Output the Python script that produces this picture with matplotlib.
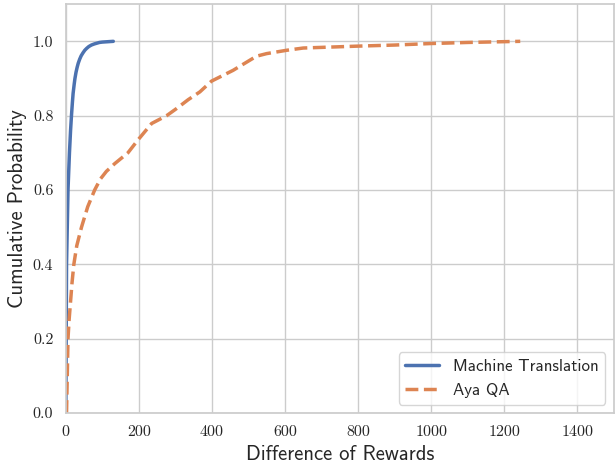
import matplotlib
matplotlib.use("Agg")
import matplotlib.pyplot as plt
import seaborn as sns

sns.set_theme(style="whitegrid")
plt.rcParams['axes.formatter.use_mathtext'] = True

mt_x = [0, 0.5, 1, 2, 4, 6, 10, 13, 15.5, 18, 20, 23, 25, 28, 31, 34, 38, 42, 47, 52, 57, 63, 70, 78, 85, 92, 100, 115, 130]
mt_y = [0, 0.1, 0.2, 0.4, 0.5, 0.6, 0.7, 0.76, 0.8, 0.835, 0.86, 0.885, 0.9, 0.917, 0.93, 0.941, 0.952, 0.961, 0.969, 0.976, 0.981, 0.986, 0.99, 0.993, 0.995, 0.997, 0.998, 0.999, 1.0]

aya_x = [2, 4, 6, 9, 13, 17, 22, 30, 43, 60, 79, 95, 111, 134, 170, 197, 235, 276, 303, 335, 367, 399, 458, 522, 550, 605, 650, 796, 900, 997, 1100, 1244]
aya_y = [0, 0.1, 0.2, 0.25, 0.3, 0.35, 0.4, 0.45, 0.5, 0.555, 0.6, 0.63, 0.65, 0.671, 0.7, 0.734, 0.779, 0.8, 0.819, 0.843, 0.864, 0.893, 0.922, 0.96, 0.967, 0.976, 0.982, 0.987, 0.99, 0.994, 0.997, 1.0]

fig = plt.figure(figsize=(6.15, 4.63), dpi=100)
ax = fig.add_axes([0.107, 0.108, 0.891, 0.883])
ax.plot(mt_x, mt_y, color='#4c72b0', lw=2.5, label='Machine Translation')
ax.plot(aya_x, aya_y, color='#dd8452', lw=2.5, ls='--', label='Aya QA')
ax.set_xlim(0, 1500)
ax.set_ylim(0, 1.1)
ax.set_xticks([0, 200, 400, 600, 800, 1000, 1200, 1400])
ax.set_yticks([0.0, 0.2, 0.4, 0.6, 0.8, 1.0])
ax.set_xticklabels(['0', '200', '400', '600', '800', '1000', '1200', '1400'], family='cmr10', fontsize=11.5)
ax.set_yticklabels(['0.0', '0.2', '0.4', '0.6', '0.8', '1.0'], family='cmr10', fontsize=11.5)
ax.tick_params(pad=3)
ax.set_xlabel('Difference of Rewards', family='cmss10', fontsize=14.8, labelpad=4)
ax.set_ylabel('Cumulative Probability', family='cmss10', fontsize=15, labelpad=4)
leg = ax.legend(loc='lower right', prop={'family': 'cmss10', 'size': 12.2})
fig.savefig('out.png', dpi=100)
